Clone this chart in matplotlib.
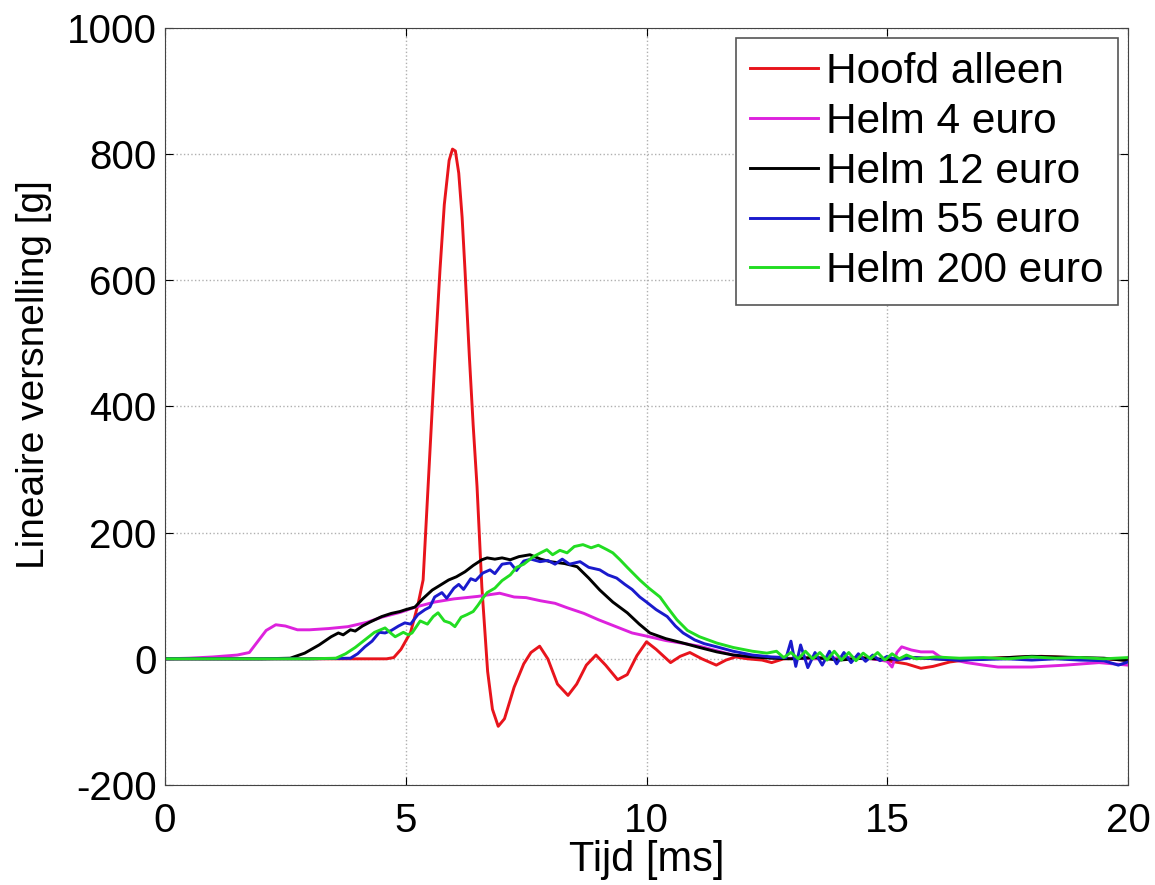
import matplotlib.pyplot as plt

# Tijd [ms] en lineaire versnelling [g] per meting
t_hoofd = [0, 4.6, 4.75, 4.9, 5.1, 5.25, 5.36, 5.5, 5.6, 5.71, 5.8, 5.9, 5.97, 6.03, 6.1,
           6.17, 6.23, 6.32, 6.4, 6.48, 6.58, 6.7, 6.8, 6.92, 7.05, 7.25, 7.45, 7.6, 7.78,
           7.95, 8.15, 8.37, 8.55, 8.75, 8.95, 9.15, 9.4, 9.6, 9.8, 10.0, 10.2, 10.5, 10.7,
           10.9, 11.15, 11.45, 11.65, 11.85, 12.1, 12.4, 12.6, 12.85, 13.5, 14.0, 14.5,
           15.0, 15.4, 15.7, 15.95, 16.3, 16.8, 17.5, 18.2, 18.8, 19.4, 20.0]
g_hoofd = [0, 0, 2, 15, 42, 85, 125, 326, 470, 616, 720, 790, 808, 805, 770,
           700, 616, 480, 370, 273, 114, -20, -80, -107, -95, -45, -8, 10, 20,
           0, -40, -58, -40, -10, 6, -10, -33, -25, 5, 27, 15, -6, 4,
           10, 0, -10, -2, 3, 0, -2, -6, 0, 2, 0, 2,
           -3, -8, -15, -12, -5, 0, 2, 4, 2, 0, -2]

t_helm4 = [0, 0.5, 1.0, 1.5, 1.75, 1.9, 2.1, 2.3, 2.5, 2.75, 3.0, 3.4, 3.8, 4.2, 4.5, 4.9,
           5.2, 5.6, 6.0, 6.5, 6.95, 7.25, 7.5, 7.8, 8.1, 8.35, 8.7, 9.0, 9.4, 9.7, 10.0,
           10.4, 10.8, 11.1, 11.5, 11.8, 12.2, 12.8, 13.5, 14.2, 14.7, 15.0, 15.1, 15.2,
           15.3, 15.5, 15.7, 15.95, 16.1, 16.4, 16.65, 17.0, 17.3, 18.0, 18.7, 19.4, 19.7, 20.0]
g_helm4 = [0, 1, 3, 6, 10, 25, 45, 54, 52, 46, 46, 48, 51, 58, 66, 74,
           82, 90, 95, 99, 104, 98, 97, 92, 88, 81, 72, 62, 50, 41, 36,
           29, 24, 20, 12, 6, 3, 1, 0, 2, 0, -4, -13, 10,
           19, 14, 11, 11, 3, -2, -6, -10, -13, -13, -10, -6, -8, -10]

t_helm12 = [0, 1, 2, 2.6, 2.9, 3.2, 3.45, 3.6, 3.7, 3.85, 3.95, 4.1, 4.25, 4.5, 4.7, 4.88,
            5.0, 5.19, 5.35, 5.55, 5.7, 5.89, 6.05, 6.23, 6.4, 6.58, 6.69, 6.85, 7.0, 7.17,
            7.35, 7.58, 7.8, 8.0, 8.3, 8.56, 8.8, 9.03, 9.3, 9.6, 9.85, 10.07, 10.4, 10.76,
            11.1, 11.46, 11.8, 12.2, 12.6, 13.0, 13.5, 14.0, 14.5, 15.0, 15.5, 16.0, 16.5,
            17.0, 17.5, 18.0, 18.5, 19.0, 19.5, 20.0]
g_helm12 = [0, 0, 0, 1, 9, 22, 35, 41, 38, 46, 44, 52, 58, 67, 72, 75,
            78, 82, 95, 109, 116, 125, 130, 138, 148, 157, 160, 158, 160, 157,
            162, 165, 158, 154, 151, 146, 128, 109, 90, 73, 55, 41, 32, 25,
            18, 11, 6, 3, 1, 0, 2, -2, 1, -1, 2, 0, -2,
            0, 2, 4, 3, 2, 1, -3]

t_helm55 = [0, 3.0, 3.85, 4.0, 4.15, 4.3, 4.45, 4.57, 4.7, 4.85, 4.98, 5.1, 5.25, 5.4, 5.5,
            5.6, 5.75, 5.85, 6.0, 6.1, 6.2, 6.35, 6.45, 6.6, 6.75, 6.85, 7.0, 7.17, 7.3, 7.45,
            7.6, 7.79, 7.95, 8.1, 8.25, 8.4, 8.62, 8.8, 9.03, 9.2, 9.38, 9.55, 9.7, 9.86, 10.0,
            10.2, 10.43, 10.6, 10.76, 11.0, 11.2, 11.46, 11.8, 12.2, 12.6, 12.9, 13.0, 13.1,
            13.2, 13.35, 13.5, 13.65, 13.8, 13.95, 14.1, 14.25, 14.4, 14.55, 14.7, 14.85,
            15.0, 15.2, 15.5, 16.0, 16.5, 17.0, 17.5, 18.0, 18.5, 19.0, 19.5, 19.8, 20.0]
g_helm55 = [0, 0, 1, 8, 19, 28, 42, 41, 45, 52, 57, 55, 70, 78, 82,
            98, 105, 96, 112, 118, 110, 127, 124, 136, 141, 135, 150, 152, 140, 155,
            158, 154, 156, 150, 158, 150, 154, 145, 141, 133, 128, 118, 110, 98, 90,
            78, 67, 52, 41, 30, 24, 19, 12, 6, 3, 2, 28, -12,
            22, -14, 10, -10, 12, -8, 10, -6, 8, -4, 6, -3,
            4, -2, 2, 0, -2, -1, 0, -2, 0, -2, -3, -10, -5]

t_helm200 = [0, 3.0, 3.55, 3.75, 3.95, 4.15, 4.35, 4.57, 4.7, 4.78, 4.95, 5.05, 5.13, 5.3,
             5.45, 5.57, 5.67, 5.8, 5.92, 6.02, 6.15, 6.27, 6.4, 6.5, 6.58, 6.69, 6.85, 7.0,
             7.17, 7.3, 7.45, 7.65, 7.8, 7.93, 8.05, 8.2, 8.35, 8.5, 8.68, 8.85, 9.0, 9.18,
             9.3, 9.45, 9.6, 9.86, 10.05, 10.28, 10.45, 10.63, 10.85, 11.1, 11.46, 11.8, 12.2,
             12.5, 12.7, 12.85, 13.0, 13.15, 13.3, 13.45, 13.6, 13.75, 13.9, 14.05, 14.2,
             14.35, 14.5, 14.65, 14.8, 14.95, 15.1, 15.25, 15.4, 15.6, 16.0, 16.5, 17.0,
             17.5, 18.0, 18.5, 19.0, 19.5, 20.0]
g_helm200 = [0, 0, 1, 8, 18, 30, 42, 49, 40, 35, 42, 38, 41, 60,
             55, 67, 73, 60, 57, 51, 66, 70, 75, 85, 94, 105, 112, 124,
             133, 145, 150, 162, 168, 173, 165, 172, 168, 178, 181, 176, 180, 173,
             168, 157, 145, 125, 112, 98, 80, 62, 45, 35, 25, 18, 12,
             9, 12, 2, 10, 0, 12, 0, 10, -2, 12, -2, 10,
             -3, 9, 0, 10, -2, 8, 0, 6, 0, 3, 1, 2,
             0, 3, 1, 2, 0, 2]

labels = ["Hoofd alleen", "Helm 4 euro", "Helm 12 euro", "Helm 55 euro", "Helm 200 euro"]
colors = ["#e8141c", "#dd22dd", "black", "#1a1acc", "#22dd22"]

plt.rcParams["font.family"] = ["Liberation Sans", "DejaVu Sans"]
plt.rcParams["axes.unicode_minus"] = False

fig = plt.figure(figsize=(11.55, 8.85), dpi=100)
ax = fig.add_axes([0.1429, 0.113, 0.8337, 0.8554])

series = [(t_hoofd, g_hoofd), (t_helm4, g_helm4), (t_helm12, g_helm12),
          (t_helm55, g_helm55), (t_helm200, g_helm200)]
for (t, g), lab, c in zip(series, labels, colors):
    ax.plot(t, g, color=c, lw=2.1, label=lab)

ax.set_xlim(0, 20)
ax.set_ylim(-200, 1000)
ax.set_xticks([0, 5, 10, 15, 20])
ax.set_yticks(range(-200, 1001, 200))
ax.grid(True, color="#b0b0b0", linestyle=":", linewidth=1)
ax.tick_params(direction="in", top=True, right=True, labelsize=29, length=6)
ax.tick_params(axis="x", pad=12)
ax.tick_params(axis="y", pad=6)
for s in ax.spines.values():
    s.set_color("#444444")

ax.set_xlabel("Tijd [ms]", fontsize=30, labelpad=0)
ax.set_ylabel("Lineaire versnelling [g]", fontsize=28)
ax.yaxis.set_label_coords(-0.117, 0.542)

leg = ax.legend(loc="upper right", fontsize=30.5, frameon=True, fancybox=False,
                edgecolor="#555555", framealpha=1, labelspacing=0.23,
                handlelength=1.6, handletextpad=0.2, borderaxespad=0.24,
                borderpad=0.33)
leg.get_frame().set_linewidth(1.2)

fig.savefig("out.png", dpi=100)
